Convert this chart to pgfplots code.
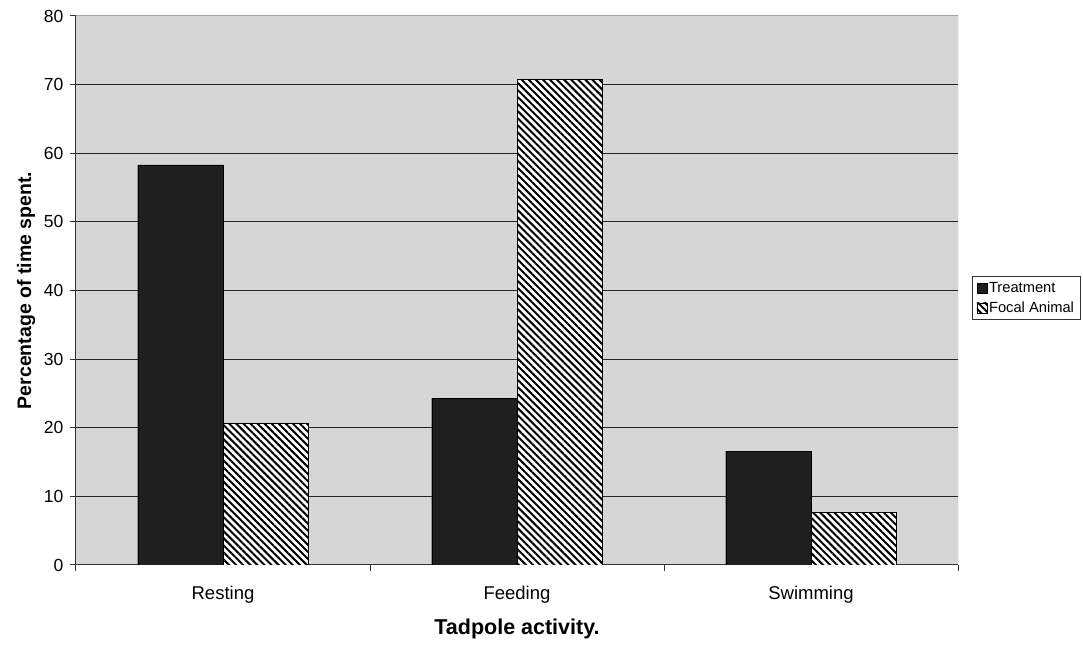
\documentclass[border=0pt]{standalone}
\usepackage{pgfplots}
\pgfplotsset{compat=1.18}
\usepackage{fontspec}
\setmainfont{Liberation Sans}
\usetikzlibrary{patterns.meta}
\definecolor{bggray}{RGB}{214,214,214}
\begin{document}
\begin{tikzpicture}
\useasboundingbox (-76pt,-82pt) rectangle (1007pt,565pt);
\begin{axis}[
  at={(0,0)}, anchor=south west,
  scale only axis, width=882pt, height=549pt,
  xmin=-0.5, xmax=2.5, ymin=0, ymax=80,
  axis x line=bottom, axis y line=left,
  axis line style={-, line width=1pt, black!80},
  axis background/.style={fill=bggray},
  ytick={0,10,...,80},
  ymajorgrids, grid style={black!85, line width=1pt},
  xtick={0,1,2}, xticklabels={Resting,Feeding,Swimming},
  minor xtick={-0.5,0.5,1.5,2.5},
  major x tick style={draw=none},
  minor x tick style={black!80, line width=1pt},
  minor tick length=6pt,
  major tick length=6pt,
  tick align=outside,
  y tick style={black!80, line width=1pt},
  tick label style={font=\fontsize{17.5}{20}\selectfont},
  /pgf/number format/assume math mode=true,
  yticklabel style={xshift=-3pt},
  xticklabel style={yshift=-12pt, font=\fontsize{18.5}{21}\selectfont},
  xlabel={\textbf{Tadpole activity.}},
  ylabel={\textbf{Percentage of time spent.}},
  xlabel style={font=\fontsize{21.5}{24}\selectfont, yshift=-8pt},
  ylabel style={font=\fontsize{19.5}{22}\selectfont, yshift=2pt},
  ybar, bar width=0.29,
  legend style={at={(rel axis cs:1.016,0.527)}, anchor=north west,
    draw=black!80, line width=0.8pt, font=\fontsize{14.7}{17}\selectfont,
    row sep=4pt, inner sep=4pt},
  legend cell align=left,
  legend image code/.code={\draw[#1, line width=0.5pt] (0pt,-5pt) rectangle (10pt,5pt);},
]
\addplot[fill=black!88, draw=black, bar shift=-0.145] coordinates {(0,58.3) (1,24.3) (2,16.6)};
\addplot[fill=white, draw=black, line width=0.8pt, bar shift=0.145,
  postaction={pattern={Lines[angle=-45, distance=5pt, line width=2pt]}}] coordinates {(0,20.6) (1,70.7) (2,7.7)};
\legend{Treatment, Focal Animal}
\draw[black!35, line width=1pt] (rel axis cs:0,1) -- (rel axis cs:1,1) -- (rel axis cs:1,0);
\end{axis}
\end{tikzpicture}
\end{document}
